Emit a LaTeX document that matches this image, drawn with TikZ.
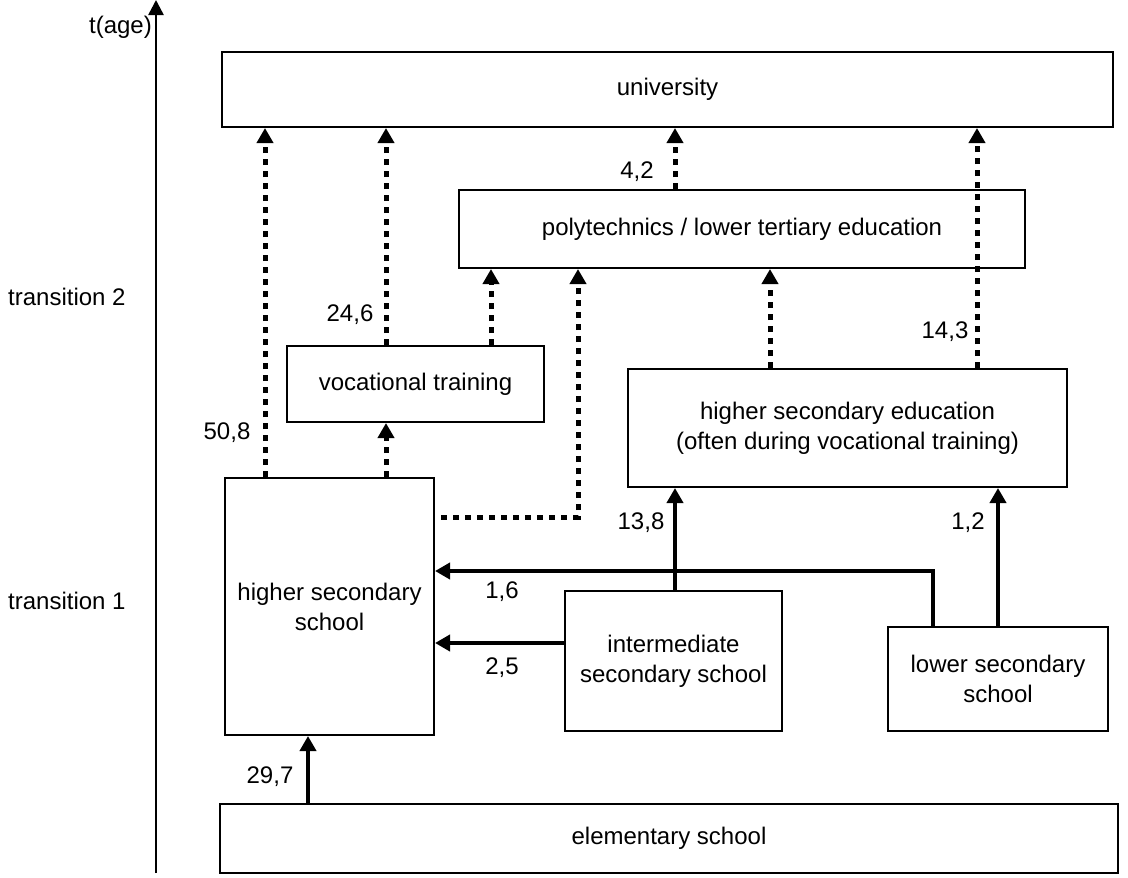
\documentclass[tikz,border=0pt]{standalone}
\usepackage{fontspec}
\setmainfont{Liberation Sans}
\usetikzlibrary{arrows.meta}
\newcommand\lblfont{\fontsize{24}{30}\selectfont}
\begin{document}
\begin{tikzpicture}[x=1pt,y=-1pt,
 box/.style={draw, line width=2pt, inner sep=0pt, align=center, font=\lblfont},
 lbl/.style={font=\lblfont, inner sep=0pt},
 sarrow/.style={line width=4pt, -{Triangle[length=15pt,width=16pt]}},
 darrow/.style={line width=5pt, dash pattern=on 6pt off 6pt, -{Triangle[length=15pt,width=16pt]}},
]
\useasboundingbox (0,0) rectangle (1128,878);
% boxes
\node[box, minimum width=891pt, minimum height=75pt] (uni) at (667.5,89.5) {university};
\node[box, minimum width=566pt, minimum height=78pt] (poly) at (742,229) {polytechnics / lower tertiary education};
\node[box, minimum width=257pt, minimum height=76pt] (voc) at (415.5,384) {vocational training};
\node[box, minimum width=439pt, minimum height=118pt] (hse) at (847.5,428) {higher secondary education\\(often during vocational training)};
\node[box, minimum width=209pt, minimum height=257pt] (hss) at (329.5,606.5) {higher secondary\\school};
\node[box, minimum width=217pt, minimum height=140pt] (ims) at (673.5,661) {intermediate\\secondary school};
\node[box, minimum width=220pt, minimum height=104pt] (lss) at (998,679) {lower secondary\\school};
\node[box, minimum width=898pt, minimum height=69pt] (elem) at (669,838.5) {elementary school};
% time axis
\coordinate (axb) at (156,873);
\coordinate (axt) at (156,0);
\draw[line width=2.5pt, -{Triangle[length=15pt,width=15pt]}] (axb) -- (axt);
\node[lbl, anchor=east] (tage) at (152,27) {t(age)};
\node[lbl, anchor=west] (tr2) at (8,297) {transition 2};
\node[lbl, anchor=west] (tr1) at (8,601) {transition 1};
% guide coordinates
\coordinate (x265) at (265,0);
\coordinate (x386) at (386,0);
\coordinate (x491) at (491,0);
\coordinate (x675) at (675,0);
\coordinate (x770) at (770,0);
\coordinate (x977) at (977,0);
\coordinate (x308) at (308,0);
\coordinate (c16) at (933,571);
\coordinate (c25) at (500,643);
\coordinate (cb) at (578,517);
% solid arrows
\draw[sarrow] (elem.north -| x308) -- (hss.south -| x308);
\draw[sarrow] (lss.north -| c16) -- (c16) -- (c16 -| hss.east);
\draw[sarrow] (c25 -| ims.west) -- (c25 -| hss.east);
\draw[sarrow] (ims.north -| x675) -- (hse.south -| x675);
\draw[sarrow] (lss.north) -- (hse.south -| lss.north);
% dotted arrows
\draw[darrow] (hss.north -| x265) -- (uni.south -| x265);
\draw[darrow] (voc.north -| x386) -- (uni.south -| x386);
\draw[darrow] (hss.north -| x386) -- (voc.south -| x386);
\draw[darrow] (voc.north -| x491) -- (poly.south -| x491);
\draw[darrow, dash phase=6pt] (hss.east |- cb) -- (cb) -- (cb |- poly.south);
\draw[darrow] (hse.north -| x770) -- (poly.south -| x770);
\draw[darrow] (hse.north -| x977) -- (uni.south -| x977);
\draw[darrow] (poly.north -| x675) -- (uni.south -| x675);
% flow labels
\node[lbl] (l297) at (270,777) {29,7};
\node[lbl] (l16) at (502,592) {1,6};
\node[lbl] (l25) at (502,668) {2,5};
\node[lbl] (l138) at (641,523) {13,8};
\node[lbl] (l12) at (968,523) {1,2};
\node[lbl] (l508) at (227,433) {50,8};
\node[lbl] (l246) at (350,315) {24,6};
\node[lbl] (l143) at (945,332) {14,3};
\node[lbl] (l42) at (637,172) {4,2};
\end{tikzpicture}
\end{document}
